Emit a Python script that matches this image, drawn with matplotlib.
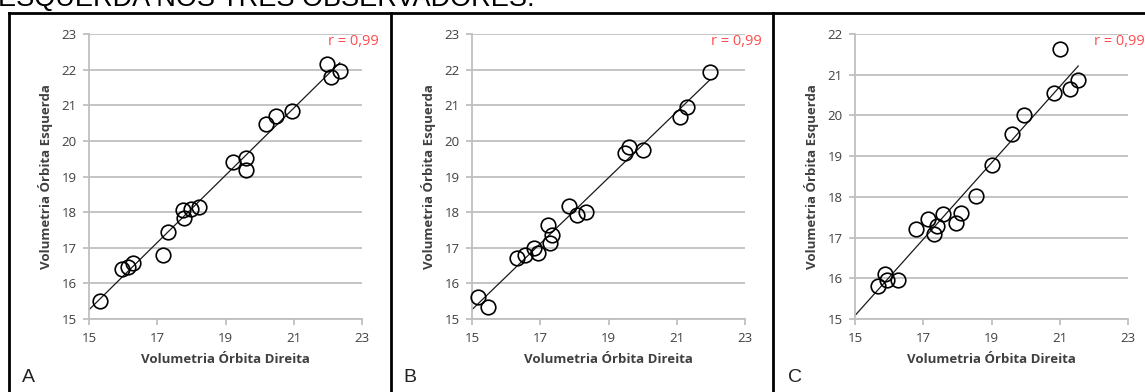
import matplotlib
matplotlib.use("Agg")
import matplotlib.pyplot as plt
import numpy as np
from matplotlib.lines import Line2D

# painel A
a_x = [15.32, 15.96, 16.15, 16.30, 17.18, 17.32, 17.76, 17.78, 18.00, 18.22,
       19.22, 19.59, 19.59, 20.20, 20.47, 20.94, 21.98, 22.10, 22.35]
a_y = [15.51, 16.39, 16.47, 16.58, 16.80, 17.43, 18.06, 17.83, 18.08, 18.13,
       19.41, 19.52, 19.18, 20.46, 20.71, 20.84, 22.17, 21.78, 21.97]

# painel B
b_x = [15.18, 15.46, 16.32, 16.56, 16.82, 16.92, 17.24, 17.29, 17.34, 17.83,
       18.09, 18.35, 19.49, 19.61, 20.02, 21.10, 21.29, 21.96]
b_y = [15.63, 15.35, 16.72, 16.80, 16.98, 16.84, 17.64, 17.14, 17.36, 18.18,
       17.92, 18.01, 19.65, 19.84, 19.74, 20.68, 20.96, 21.92]

# painel C
c_x = [15.66, 15.88, 15.93, 16.25, 16.80, 17.13, 17.32, 17.39, 17.57, 17.96,
       18.10, 18.56, 19.00, 19.61, 19.96, 20.83, 21.29, 21.54, 21.00]
c_y = [15.81, 16.11, 15.96, 15.97, 17.21, 17.45, 17.08, 17.28, 17.58, 17.35,
       17.60, 18.02, 18.78, 19.55, 20.00, 20.54, 20.65, 20.87, 21.63]

paineis = ['A', 'B', 'C']
r_texto = 'r = 0,99'
x_ticks = [15, 17, 19, 21, 23]
y_lims = [(15, 23), (15, 23), (15, 22)]
dados = [(a_x, a_y), (b_x, b_y), (c_x, c_y)]

W, H = 1145, 392
fig = plt.figure(figsize=(W / 100, H / 100), dpi=100)

fonte = ['Open Sans', 'DejaVu Sans']
cinza = '#bfbfbf'

# titulo cortado no topo
fig.text(-0.002, 1 - 6 / H, 'ESQUERDA NOS TRÊS OBSERVADORES:', fontsize=19.5,
         family=['Liberation Sans'], va='baseline', ha='left', color='black')

# molduras
lw = 2.0
fig.add_artist(Line2D([9 / W, 1], [1 - 13 / H, 1 - 13 / H], transform=fig.transFigure,
                      color='black', lw=lw))
for xp in [9, 391, 773]:
    fig.add_artist(Line2D([xp / W, xp / W], [0, 1 - 13 / H], transform=fig.transFigure,
                          color='black', lw=lw))

lefts = [89, 472, 855]
for i, (xs, ys) in enumerate(dados):
    ax = fig.add_axes([lefts[i] / W, 1 - 319 / H, 273 / W, 285 / H])
    ax.set_xlim(15, 23)
    ax.set_ylim(*y_lims[i])
    ax.set_xticks(x_ticks)
    ax.set_yticks(np.arange(y_lims[i][0], y_lims[i][1] + 1))
    ax.yaxis.grid(True, color=cinza, lw=1.3)
    ax.set_axisbelow(True)
    for s in ['top', 'right']:
        ax.spines[s].set_visible(False)
    for s in ['left', 'bottom']:
        ax.spines[s].set_color(cinza)
        ax.spines[s].set_linewidth(1.3)
    ax.tick_params(length=4, width=1.3, color=cinza, labelcolor='#404040',
                   labelsize=9.5, pad=5)
    for lab in ax.get_xticklabels() + ax.get_yticklabels():
        lab.set_family(fonte)

    xs = np.array(xs)
    ys = np.array(ys)
    k, b = np.polyfit(xs, ys, 1)
    xl = np.array([15, xs.max()])
    ax.plot(xl, k * xl + b, color='#1a1a1a', lw=0.9, zorder=2)
    ax.plot(xs, ys, 'o', ms=10.5, mfc='none', mec='black', mew=1.2, zorder=3,
            clip_on=False)

    ax.set_xlabel('Volumetria Órbita Direita', fontsize=9.5, fontweight='bold',
                  color='#404040', family=fonte, labelpad=6)
    ax.set_ylabel('Volumetria Órbita Esquerda', fontsize=9.5, fontweight='bold',
                  color='#404040', family=fonte, labelpad=6)
    ax.text(1.0 + 17 / 273, 0.975, r_texto, transform=ax.transAxes, ha='right',
            va='center', color='#ff4d4d', fontsize=10.5, family=fonte, clip_on=False)

    px = [28, 410, 795][i]
    fig.text(px / W, 1 - 378 / H, paineis[i], fontsize=14, family=['Liberation Sans'],
             ha='center', va='center', color='#222222')

fig.savefig('out.png', dpi=100)
